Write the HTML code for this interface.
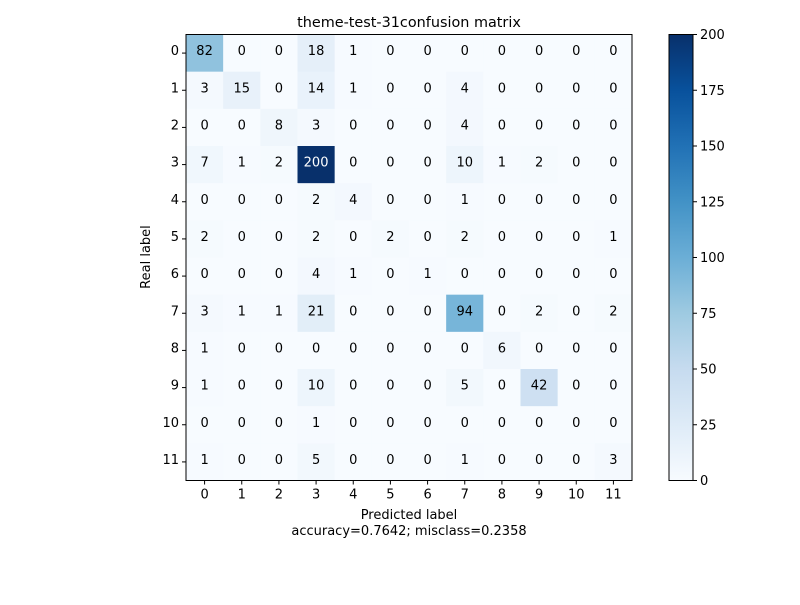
<!DOCTYPE html>
<html><head><meta charset="utf-8"><style>
body{margin:0;background:#fff;}
svg text{font-family:"DejaVu Sans","Liberation Sans",sans-serif;}
</style></head><body>
<svg id="c" width="800" height="600" viewBox="0 0 800 600">
<rect width="800" height="600" fill="#fff"/>
<text x="409" y="27" font-size="14.4" text-anchor="middle">theme-test-31confusion matrix</text>
<g id="cells"></g>
<g id="axes"></g>
</svg>
<script>
const labels=["0","1","2","3","4","5","6","7","8","9","10","11"];
const row0=[82,0,0,18,1,0,0,0,0,0,0,0];
const row1=[3,15,0,14,1,0,0,4,0,0,0,0];
const row2=[0,0,8,3,0,0,0,4,0,0,0,0];
const row3=[7,1,2,200,0,0,0,10,1,2,0,0];
const row4=[0,0,0,2,4,0,0,1,0,0,0,0];
const row5=[2,0,0,2,0,2,0,2,0,0,0,1];
const row6=[0,0,0,4,1,0,1,0,0,0,0,0];
const row7=[3,1,1,21,0,0,0,94,0,2,0,2];
const row8=[1,0,0,0,0,0,0,0,6,0,0,0];
const row9=[1,0,0,10,0,0,0,5,0,42,0,0];
const row10=[0,0,0,1,0,0,0,0,0,0,0,0];
const row11=[1,0,0,5,0,0,0,1,0,0,0,3];
const matrix=[row0,row1,row2,row3,row4,row5,row6,row7,row8,row9,row10,row11];
const cbTicks=[0,25,50,75,100,125,150,175,200];
const vmax=200;
const NS="http://www.w3.org/2000/svg";
const L=186,R=632,T=34.5,B=480.5;
const n=labels.length, cw=(R-L)/n, ch=(B-T)/n;
const xS=i=>L+i*cw, yS=i=>T+i*ch;
const stops=["#f7fbff","#deebf7","#c6dbef","#9ecae1","#6baed6","#4292c6","#2171b5","#08519c","#08306b"];
function hx(h){return [1,3,5].map(k=>parseInt(h.substr(k,2),16));}
function cmap(t){t=Math.max(0,Math.min(1,t));const p=t*8,i=Math.min(7,Math.floor(p)),f=p-i;const a=hx(stops[i]),b=hx(stops[i+1]);return "rgb("+a.map((v,k)=>Math.round(v+(b[k]-v)*f)).join(",")+")";}
function el(tag,attrs,parent,txt){const e=document.createElementNS(NS,tag);for(const k in attrs)e.setAttribute(k,attrs[k]);if(txt!==undefined)e.textContent=txt;parent.appendChild(e);return e;}
const cells=document.getElementById('cells'), axes=document.getElementById('axes');
matrix.forEach((row,r)=>row.forEach((v,c)=>{
 const rc=el('rect',{x:xS(c),y:yS(r),width:cw+0.3,height:ch+0.3,fill:cmap(v/vmax)},cells);
 
 
 const t=el('text',{x:xS(c)+cw/2,y:yS(r)+ch/2+2,'font-size':13,'text-anchor':'middle',fill:v>vmax/2?'#fff':'#000'},cells,String(v));
 
 
}));
el('rect',{x:L,y:T,width:R-L,height:B-T,fill:'none',stroke:'#000','stroke-width':1},axes);
labels.forEach((lb,i)=>{
 const cx=xS(i)+cw/2, cy=yS(i)+ch/2;
 el('line',{x1:cx,x2:cx,y1:B,y2:B+4,stroke:'#000'},axes);
 const tx=el('text',{x:cx,y:B+18,'font-size':13,'text-anchor':'middle'},axes,lb);
 
 
 el('line',{x1:L-4,x2:L,y1:cy,y2:cy,stroke:'#000'},axes);
 const ty=el('text',{x:L-7,y:cy+2,'font-size':13,'text-anchor':'end'},axes,lb);
 
 
});
el('text',{x:409,y:519,'font-size':13,'text-anchor':'middle',},axes,'Predicted label');
el('text',{x:409,y:535,'font-size':13,'text-anchor':'middle',},axes,'accuracy=0.7642; misclass=0.2358');
el('text',{x:150,y:257,'font-size':13,'text-anchor':'middle',transform:'rotate(-90 150 257)',},axes,'Real label');
const CL=669,CR=693;
const cb=el('g',{},axes);
const defs=el('defs',{},cb);
const g=el('linearGradient',{id:'cbg',x1:0,y1:1,x2:0,y2:0},defs);
stops.forEach((s,i)=>el('stop',{offset:i/8,'stop-color':s},g));
el('rect',{x:CL,y:T,width:CR-CL,height:B-T,fill:'url(#cbg)',stroke:'#000'},cb);
const cy=v=>B-(v/vmax)*(B-T);
cbTicks.forEach(v=>{
 el('line',{x1:CR,x2:CR+4,y1:cy(v),y2:cy(v),stroke:'#000'},cb);
 const t=el('text',{x:CR+7,y:cy(v)+4.5,'font-size':13},cb,String(v));
 
 
});
</script>
</body></html>
